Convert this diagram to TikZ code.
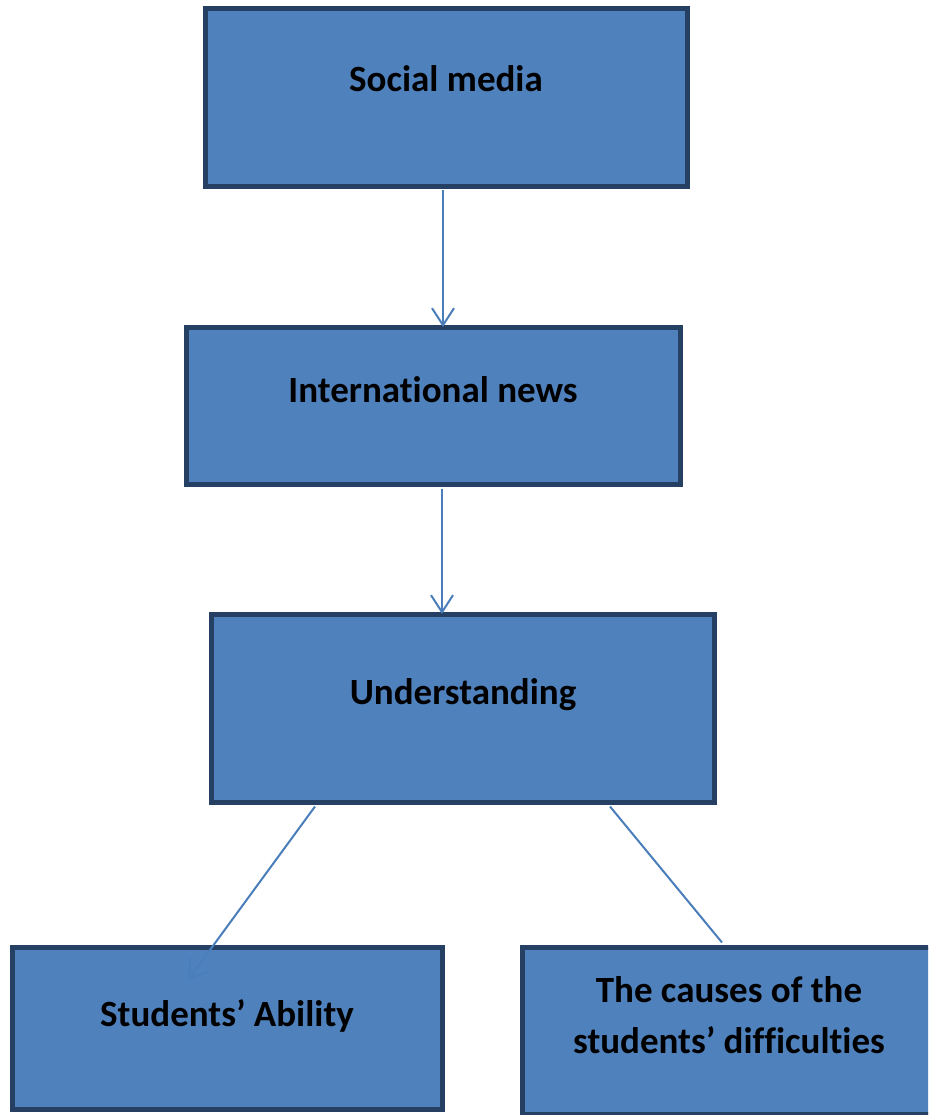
\documentclass[tikz,border=0pt]{standalone}
\usepackage{fontspec}
\setmainfont{Carlito}[RawFeature={-liga;-clig}]
\usetikzlibrary{arrows.meta}
\definecolor{boxfill}{HTML}{4F81BD}
\definecolor{boxline}{RGB}{38,64,100}
\definecolor{conn}{HTML}{4A7EBB}
\begin{document}
\begin{tikzpicture}[x=1pt,y=-1pt,
  box/.style={draw=boxline, fill=boxfill, line width=5pt, inner sep=0pt, rectangle},
  lbl/.style={anchor=base, inner sep=0pt, font=\fontsize{37}{51}\selectfont\bfseries, align=center},
  conline/.style={draw=conn, line width=2pt},
  arr/.style={conline, -{Straight Barb[length=17pt,width=22pt,line width=2pt]}}]
\useasboundingbox (0,0) rectangle (928,1115);
\clip (0,0) rectangle (928,1115);
\fill[white] (0,0) rectangle (928,1115);
% boxes
\node[box, minimum width=482pt, minimum height=178pt] (b1) at (446.5,97.5) {};
\node[box, minimum width=494pt, minimum height=157pt] (b2) at (433.5,406) {};
\node[box, minimum width=503pt, minimum height=188pt] (b3) at (463,708.5) {};
\node[box, minimum width=430pt, minimum height=162pt] (b4) at (227.5,1028.5) {};
\node[box, minimum width=415pt, minimum height=167pt] (b5) at (730,1031) {};
% labels
\node[lbl] (t1) at (446,92) {Social media};
\node[lbl] (t2) at (433,402) {International news};
\node[lbl] (t3) at (463,704) {Understanding};
\node[lbl] (t4) at (227,1026) {Students’ Ability};
\node[lbl] (t5) at (729,1053) {The causes of the\\students’ difficulties};
% connectors
\coordinate (tip4) at (188,980);
\draw[arr] ([xshift=-3.5pt,yshift=-1.5pt]b1.south) -- ([xshift=9.5pt,yshift=-2pt]b2.north);
\draw[arr] ([xshift=8.5pt,yshift=-1.5pt]b2.south) -- ([xshift=-21pt,yshift=-2pt]b3.north);
\draw[arr] ([xshift=-148pt,yshift=-1.5pt]b3.south) -- (tip4);
\draw[conline] ([xshift=147pt,yshift=-1.5pt]b3.south) -- ([xshift=-8pt,yshift=2.5pt]b5.north);
\end{tikzpicture}
\end{document}
